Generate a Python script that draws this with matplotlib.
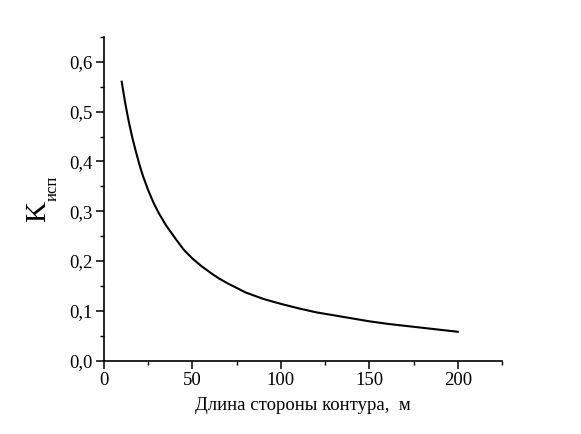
import matplotlib
matplotlib.use('Agg')
import matplotlib.pyplot as plt
from matplotlib.ticker import MultipleLocator, FuncFormatter

# side length of the contour, m  vs  utilisation coefficient
side_len = [10, 12, 14, 16, 18, 20, 22, 25, 28, 31, 35, 40, 45, 50, 55, 60, 65, 70,
            80, 90, 100, 110, 120, 130, 140, 150, 160, 170, 180, 190, 200]
k_isp = [0.560, 0.517, 0.480, 0.448, 0.420, 0.394, 0.371, 0.342, 0.317, 0.296,
         0.272, 0.247, 0.223, 0.205, 0.190, 0.177, 0.165, 0.155, 0.137, 0.124,
         0.114, 0.105, 0.097, 0.091, 0.085, 0.079, 0.074, 0.070, 0.066, 0.062, 0.058]

x_ticks = [0, 50, 100, 150, 200]
y_ticks = [0.0, 0.1, 0.2, 0.3, 0.4, 0.5, 0.6]

plt.rcParams['font.family'] = ['Liberation Serif', 'DejaVu Serif']

fig = plt.figure(figsize=(5.81, 4.34), dpi=100)
ax = fig.add_axes([0.179, 0.169, 0.685, 0.746])

ax.plot(side_len, k_isp, color='black', lw=1.5, solid_joinstyle='round')

ax.set_xlim(0, 225)
ax.set_ylim(0, 0.65)
ax.set_xticks(x_ticks)
ax.set_yticks(y_ticks)
ax.xaxis.set_minor_locator(MultipleLocator(25))
ax.yaxis.set_minor_locator(MultipleLocator(0.05))
ax.yaxis.set_major_formatter(FuncFormatter(lambda v, p: f'{v:.1f}'.replace('.', ',')))

for s in ['top', 'right']:
    ax.spines[s].set_visible(False)
for s in ['left', 'bottom']:
    ax.spines[s].set_linewidth(1.2)

ax.tick_params(which='major', direction='out', length=6, width=1.1, labelsize=13.5, pad=2)
ax.tick_params(which='minor', direction='out', length=3, width=1.0)

ax.set_xlabel('Длина стороны контура,  м', fontsize=13.5, labelpad=6)

# y label: big K with small subscript, both rotated
fig.text(0.0654, 0.5138, 'K', rotation=90, fontsize=21, ha='center', va='center')
fig.text(0.0904, 0.5657, 'исп', rotation=90, fontsize=12, ha='center', va='center')

fig.savefig('out.png', dpi=100)
